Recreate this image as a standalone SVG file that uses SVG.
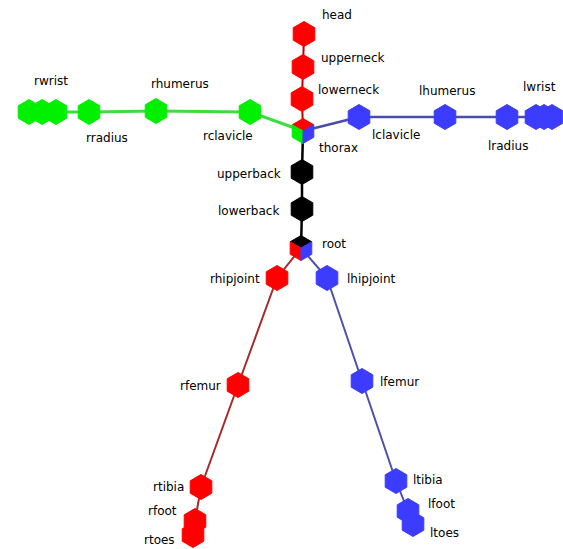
<svg xmlns="http://www.w3.org/2000/svg" xmlns:xlink="http://www.w3.org/1999/xlink" width="563" height="549" viewBox="0 0 563 549">
<style>
text{font-family:"DejaVu Sans","Liberation Sans",sans-serif;font-size:12px;fill:#000}
.e{fill:none;stroke-linecap:round}
.sp{stroke:#000;stroke-width:2.5}
.nk{stroke:#c00000;stroke-width:2}
.ra{stroke:#3fdc3f;stroke-width:3}
.la{stroke:#4b4ba8;stroke-width:2.5}
.rl{stroke:#a52a2a;stroke-width:2}
.ll{stroke:#5050a8;stroke-width:2}
.r{fill:#ff0000}
.g{fill:#00f000}
.b{fill:#3c3cff}
.k{fill:#000}
.h{stroke-width:1;stroke-linejoin:round}
.h.r{stroke:#ff0000}.h.g{stroke:#00f000}.h.b{stroke:#3c3cff}.h.k{stroke:#000}
</style>
<defs>
<polygon id="hex" points="0,-12.5 10.8,-6.2 10.8,6.2 0,12.5 -10.8,6.2 -10.8,-6.2"/>
<polygon id="cubeTop" points="0,0 -10.8,-6.2 0,-12.5 10.8,-6.2"/>
<polygon id="cubeLeft" points="0,0 -10.8,-6.2 -10.8,6.2 0,12.5"/>
<polygon id="cubeRight" points="0,0 10.8,-6.2 10.8,6.2 0,12.5"/>
</defs>
<rect width="563" height="549" fill="#fff"/>
<g id="connectors">
<line class="e sp" x1="301" y1="248" x2="302" y2="209"/>
<line class="e sp" x1="302" y1="209" x2="302" y2="172"/>
<line class="e sp" x1="302" y1="172" x2="303" y2="131"/>
<line class="e nk" x1="303" y1="131" x2="302" y2="99"/>
<line class="e nk" x1="302" y1="99" x2="303" y2="67"/>
<line class="e nk" x1="303" y1="67" x2="304" y2="34"/>
<line class="e ra" x1="303" y1="131" x2="250" y2="112"/>
<line class="e ra" x1="250" y1="112" x2="156" y2="111"/>
<line class="e ra" x1="156" y1="111" x2="89" y2="112"/>
<line class="e ra" x1="89" y1="112" x2="56" y2="112"/>
<line class="e la" x1="303" y1="131" x2="359" y2="117"/>
<line class="e la" x1="359" y1="117" x2="445" y2="117"/>
<line class="e la" x1="445" y1="117" x2="507" y2="117"/>
<line class="e la" x1="507" y1="117" x2="536" y2="117"/>
<line class="e rl" x1="301" y1="248" x2="277" y2="278"/>
<line class="e rl" x1="277" y1="278" x2="238" y2="385"/>
<line class="e rl" x1="238" y1="385" x2="201" y2="487"/>
<line class="e rl" x1="201" y1="487" x2="195" y2="521"/>
<line class="e rl" x1="195" y1="521" x2="193" y2="535"/>
<line class="e ll" x1="301" y1="248" x2="327" y2="278"/>
<line class="e ll" x1="327" y1="278" x2="362" y2="381"/>
<line class="e ll" x1="362" y1="381" x2="396" y2="481"/>
<line class="e ll" x1="396" y1="481" x2="408" y2="511"/>
<line class="e ll" x1="408" y1="511" x2="413" y2="524"/>
</g>
<g id="head"><use xlink:href="#hex" class="h r" x="304" y="34"/><text x="322" y="19">head</text></g>
<g id="upperneck"><use xlink:href="#hex" class="h r" x="303" y="67"/><text x="321" y="62">upperneck</text></g>
<g id="lowerneck"><use xlink:href="#hex" class="h r" x="302" y="99"/><text x="318" y="94">lowerneck</text></g>
<g id="thorax"><use xlink:href="#cubeTop" class="h r" x="303" y="131"/><use xlink:href="#cubeLeft" class="h g" x="303" y="131"/><use xlink:href="#cubeRight" class="h b" x="303" y="131"/><text x="319" y="152">thorax</text></g>
<g id="upperback"><use xlink:href="#hex" class="h k" x="302" y="172"/><text x="217" y="178">upperback</text></g>
<g id="lowerback"><use xlink:href="#hex" class="h k" x="302" y="209"/><text x="218" y="215">lowerback</text></g>
<g id="root"><use xlink:href="#cubeTop" class="h k" x="301" y="248"/><use xlink:href="#cubeLeft" class="h r" x="301" y="248"/><use xlink:href="#cubeRight" class="h b" x="301" y="248"/><text x="322" y="248">root</text></g>
<g id="rclavicle"><use xlink:href="#hex" class="h g" x="250" y="112"/><text x="203" y="140">rclavicle</text></g>
<g id="rhumerus"><use xlink:href="#hex" class="h g" x="156" y="111"/><text x="151" y="88">rhumerus</text></g>
<g id="rradius"><use xlink:href="#hex" class="h g" x="89" y="112"/><text x="86" y="142">rradius</text></g>
<g id="rfingers"><use xlink:href="#hex" class="h g" x="29" y="112"/></g>
<g id="rhand"><use xlink:href="#hex" class="h g" x="42" y="112"/></g>
<g id="rwrist"><use xlink:href="#hex" class="h g" x="56" y="112"/><text x="34" y="85">rwrist</text></g>
<g id="lclavicle"><use xlink:href="#hex" class="h b" x="359" y="117"/><text x="372" y="139">lclavicle</text></g>
<g id="lhumerus"><use xlink:href="#hex" class="h b" x="445" y="117"/><text x="419" y="95">lhumerus</text></g>
<g id="lradius"><use xlink:href="#hex" class="h b" x="507" y="117"/><text x="488" y="150">lradius</text></g>
<g id="lfingers"><use xlink:href="#hex" class="h b" x="552" y="117"/></g>
<g id="lhand"><use xlink:href="#hex" class="h b" x="544" y="117"/></g>
<g id="lwrist"><use xlink:href="#hex" class="h b" x="536" y="117"/><text x="523" y="91">lwrist</text></g>
<g id="rhipjoint"><use xlink:href="#hex" class="h r" x="277" y="278"/><text x="210" y="283">rhipjoint</text></g>
<g id="rfemur"><use xlink:href="#hex" class="h r" x="238" y="385"/><text x="180" y="390">rfemur</text></g>
<g id="rtibia"><use xlink:href="#hex" class="h r" x="201" y="487"/><text x="153" y="491">rtibia</text></g>
<g id="rfoot"><use xlink:href="#hex" class="h r" x="195" y="521"/><text x="148" y="515">rfoot</text></g>
<g id="rtoes"><use xlink:href="#hex" class="h r" x="193" y="535"/><text x="144" y="544">rtoes</text></g>
<g id="lhipjoint"><use xlink:href="#hex" class="h b" x="327" y="278"/><text x="347" y="283">lhipjoint</text></g>
<g id="lfemur"><use xlink:href="#hex" class="h b" x="362" y="381"/><text x="380" y="386">lfemur</text></g>
<g id="ltibia"><use xlink:href="#hex" class="h b" x="396" y="481"/><text x="413" y="484">ltibia</text></g>
<g id="lfoot"><use xlink:href="#hex" class="h b" x="408" y="511"/><text x="428" y="508">lfoot</text></g>
<g id="ltoes"><use xlink:href="#hex" class="h b" x="413" y="524"/><text x="430" y="537">ltoes</text></g>
</svg>
